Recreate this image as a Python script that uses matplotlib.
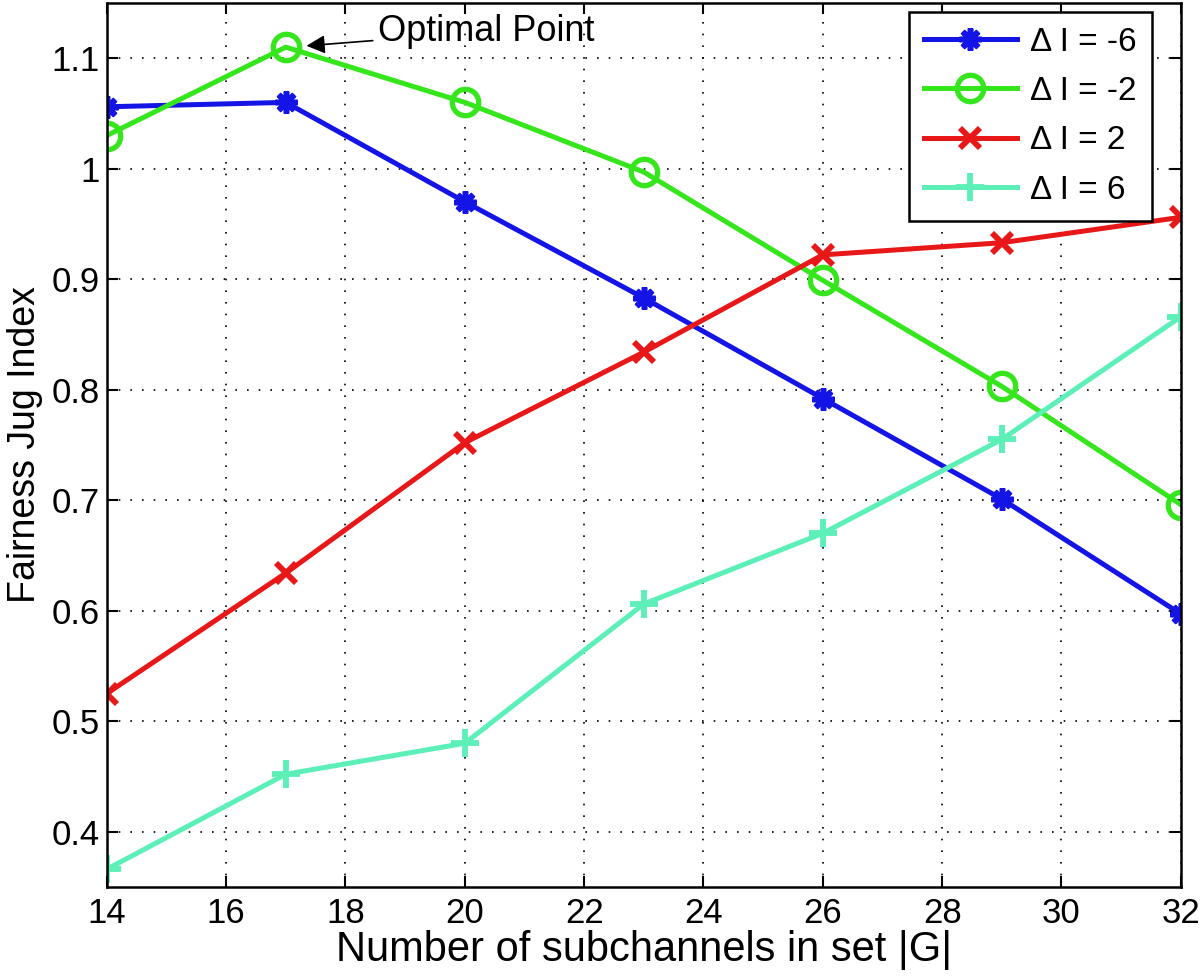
import numpy as np
import matplotlib; matplotlib.use("Agg"); import matplotlib.pyplot as plt

plt.rcParams["font.family"] = ["Liberation Sans", "DejaVu Sans"]

x = [14, 17, 20, 23, 26, 29, 32]
dI_m6 = [1.056, 1.060, 0.970, 0.883, 0.792, 0.701, 0.597]
dI_m2 = [1.030, 1.110, 1.060, 0.997, 0.899, 0.803, 0.696]
dI_p2 = [0.525, 0.634, 0.752, 0.834, 0.922, 0.933, 0.956]
dI_p6 = [0.366, 0.452, 0.480, 0.606, 0.670, 0.755, 0.866]
labels = ["Δ I = -6", "Δ I = -2", "Δ I = 2", "Δ I = 6"]
xticks = [14, 16, 18, 20, 22, 24, 26, 28, 30, 32]
yticks = [0.4, 0.5, 0.6, 0.7, 0.8, 0.9, 1.0, 1.1]
ytick_labels = ["0.4", "0.5", "0.6", "0.7", "0.8", "0.9", "1", "1.1"]

fig = plt.figure(figsize=(12, 9.8), dpi=100)
ax = fig.add_axes([0.089, 0.095, 0.895, 0.902])
lw = 3.6
ax.plot(x, dI_m6, color="#1414e6", lw=lw, marker=(8, 2, 0), ms=16, mew=4, label=labels[0])
ax.plot(x, dI_m2, color="#36e61c", lw=lw, marker="o", ms=19, mew=3.8, mfc="none", label=labels[1])
ax.plot(x, dI_p2, color="#e81818", lw=lw, marker="x", ms=14, mew=4.2, label=labels[2])
ax.plot(x, dI_p6, color="#5cf0b8", lw=lw, marker="+", ms=20, mew=4.2, label=labels[3])

ax.set_xlim(14, 32); ax.set_ylim(0.35, 1.15)
ax.set_xticks(xticks); ax.set_yticks(yticks); ax.set_yticklabels(ytick_labels)
ax.tick_params(direction="in", top=True, right=True, labelsize=25, length=8, width=1.5)
ax.tick_params(axis="x", pad=7)
ax.tick_params(axis="y", pad=5)
ax.grid(True, color="k", linestyle=(0, (1, 6)), lw=1.2)
for s in ax.spines.values(): s.set_linewidth(1.8)
ax.set_xlabel("Number of subchannels in set |G|", fontsize=30, labelpad=0)
ax.set_ylabel("Fairness Jug Index", fontsize=27, labelpad=6)

ax.annotate("Optimal Point", xy=(17.3, 1.111), xytext=(18.55, 1.124), fontsize=26, va="center",
            arrowprops=dict(arrowstyle="-|>", color="k", lw=1.2, mutation_scale=28))

leg = ax.legend(loc="upper right", bbox_to_anchor=(0.973, 0.990), fontsize=24, handlelength=2.8,
                fancybox=False, framealpha=1, edgecolor="k", borderpad=0.45, labelspacing=0.55,
                handletextpad=0.4, borderaxespad=0)
leg.get_frame().set_linewidth(1.8)
fig.savefig("out.png", dpi=100)
